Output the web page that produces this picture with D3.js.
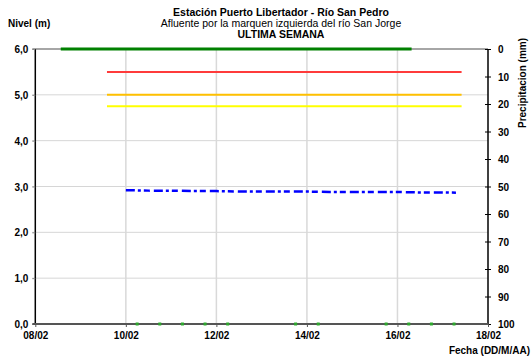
<!DOCTYPE html>
<html>
<head>
<meta charset="utf-8">
<script src="https://cdn.jsdelivr.net/npm/d3@7"></script>
<style>
  html, body { margin: 0; padding: 0; background: #fff; }
  svg { display: block; font-family: "Liberation Sans", Arial, sans-serif; }
</style>
</head>
<body>
<svg id="chart" width="531" height="363"></svg>
<script>
// ---------- data ----------
const titleLines = ["Estación Puerto Libertador - Río San Pedro",
                    "Afluente por la marquen izquierda del río San Jorge",
                    "ULTIMA SEMANA"];
const xTickLabels = ["08/02", "10/02", "12/02", "14/02", "16/02", "18/02"];
const levelTicks = [0, 1, 2, 3, 4, 5, 6];
const precipTicks = [0, 10, 20, 30, 40, 50, 60, 70, 80, 90, 100];

// threshold lines: [start, end, level]
const thresholdNames  = ["verde", "roja", "naranja", "amarilla"];
const thresholdStart  = ["2014-02-08T13:30", "2014-02-09T14:00", "2014-02-09T14:00", "2014-02-09T14:00"];
const thresholdEnd    = ["2014-02-16T07:30", "2014-02-17T10:00", "2014-02-17T10:00", "2014-02-17T10:00"];
const thresholdLevel  = [6.0, 5.5, 5.0, 4.75];

// observed level (m)
const levelTimes = ["2014-02-10T00:00", "2014-02-10T12:00", "2014-02-11T00:00", "2014-02-11T12:00",
                    "2014-02-12T00:00", "2014-02-12T12:00", "2014-02-13T00:00", "2014-02-13T12:00",
                    "2014-02-14T00:00", "2014-02-14T12:00", "2014-02-15T00:00", "2014-02-15T12:00",
                    "2014-02-16T00:00", "2014-02-16T12:00", "2014-02-17T00:00", "2014-02-17T07:00"];
const levelValues = [2.92, 2.91, 2.91, 2.90, 2.90, 2.89, 2.89, 2.89,
                     2.89, 2.88, 2.88, 2.88, 2.88, 2.87, 2.87, 2.865];

// precipitation readings (plotted at 0 level)
const rainTimes = ["2014-02-10T06:00", "2014-02-10T18:00", "2014-02-11T06:00", "2014-02-11T18:00",
                   "2014-02-12T06:00", "2014-02-13T18:00", "2014-02-14T06:00", "2014-02-15T18:00",
                   "2014-02-16T06:00", "2014-02-16T18:00", "2014-02-17T06:00"];
const rainValues = [0, 0, 0, 0, 0, 0, 0, 0, 0, 0, 0];

// ---------- chart ----------
const parse = d3.isoParse;
const svg = d3.select("#chart");
const L = 35.3, R = 488, T = 49, B = 324;

const x = d3.scaleTime()
  .domain([parse("2014-02-08T00:00"), parse("2014-02-18T00:00")])
  .range([L, R]);
const y = d3.scaleLinear().domain([0, 6]).range([B, T]);
const y2 = d3.scaleLinear().domain([0, 100]).range([T, B]);
const xTicks = xTickLabels.map((_, i) => d3.timeDay.offset(x.domain()[0], i * 2));

const fontB = "bold";

// horizontal gridlines
svg.append("g").selectAll("line").data(levelTicks.filter(d => d > 0 && d < 6)).join("line")
  .attr("x1", L - 3).attr("x2", R).attr("y1", d => y(d)).attr("y2", d => y(d))
  .attr("stroke", "#d6d6d6").attr("stroke-width", 1);
// top line
svg.append("line").attr("x1", L - 3).attr("x2", R).attr("y1", y(6)).attr("y2", y(6))
  .attr("stroke", "#a6a6a6").attr("stroke-width", 2);

// vertical gridlines
svg.append("g").selectAll("line").data(xTicks.slice(1, -1)).join("line")
  .attr("x1", d => x(d)).attr("x2", d => x(d)).attr("y1", T).attr("y2", B)
  .attr("stroke", "#d9d9d9").attr("stroke-width", 1.5);

// left axis
const yAxis = d3.axisLeft(y).tickValues(levelTicks).tickSize(3)
  .tickFormat(d => d3.format(".1f")(d).replace(".", ","));
const gy = svg.append("g").attr("transform", `translate(${L},0)`).call(yAxis);
gy.select(".domain").attr("stroke", "#000").attr("stroke-width", 1.5).attr("d", `M0,${T}V${B}`);
gy.selectAll(".tick line").attr("stroke", "#888");
gy.selectAll(".tick text").attr("x", -7).attr("dy", "0.35em")
  .attr("font-size", 10).attr("font-weight", fontB).attr("fill", "#000");

// right axis
const y2Axis = d3.axisRight(y2).tickValues(precipTicks).tickSize(3);
const gy2 = svg.append("g").attr("transform", `translate(${R},0)`).call(y2Axis);
gy2.select(".domain").attr("stroke", "#000").attr("stroke-width", 1.5).attr("d", `M0,${T}V${B}`);
gy2.selectAll(".tick line").attr("stroke", "#000").attr("x1", -3).attr("x2", 3);
gy2.selectAll(".tick text").attr("x", 10).attr("dy", "0.35em")
  .attr("font-size", 10).attr("font-weight", fontB).attr("fill", "#000");

// bottom axis
const xAxis = d3.axisBottom(x).tickValues(xTicks).tickSize(3)
  .tickFormat((d, i) => xTickLabels[i]);
const gx = svg.append("g").attr("transform", `translate(0,${B})`).call(xAxis);
gx.select(".domain").attr("stroke", "#555").attr("stroke-width", 2).attr("d", `M${L - 3},0H${R}`);
gx.selectAll(".tick line").attr("stroke", "#555");
gx.selectAll(".tick text").attr("y", 15).attr("dy", 0)
  .attr("font-size", 10).attr("font-weight", fontB).attr("fill", "#000");

// threshold lines
const thrColors = ["#008000", "#ff3b3b", "#ffc000", "#ffff00"];
const thrWidths = [3, 2, 2, 2];
svg.append("g").selectAll("line").data(thresholdNames).join("line")
  .attr("x1", (d, i) => x(parse(thresholdStart[i])))
  .attr("x2", (d, i) => x(parse(thresholdEnd[i])))
  .attr("y1", (d, i) => y(thresholdLevel[i]))
  .attr("y2", (d, i) => y(thresholdLevel[i]))
  .attr("stroke", (d, i) => thrColors[i])
  .attr("stroke-width", (d, i) => thrWidths[i]);

// level line
const levelData = levelTimes.map((t, i) => ({ t: parse(t), v: levelValues[i] }));
svg.append("path").datum(levelData)
  .attr("fill", "none").attr("stroke", "#0000ff").attr("stroke-width", 2.5)
  .attr("stroke-dasharray", "9,3,3,3,6,4")
  .attr("d", d3.line().x(d => x(d.t)).y(d => y(d.v)));

// rain points
const rainData = rainTimes.map((t, i) => ({ t: parse(t), v: rainValues[i] }));
svg.append("g").selectAll("rect").data(rainData).join("rect")
  .attr("x", d => x(d.t) - 1.5).attr("y", d => y(d.v) - 1.5)
  .attr("width", 3).attr("height", 3).attr("fill", "#2ea82e");

// titles
const titleG = svg.append("g").attr("text-anchor", "middle").attr("font-size", 10.5);
titleLines.forEach((s, i) => {
  titleG.append("text").attr("x", 281).attr("y", 16 + i * 11)
    .attr("font-weight", i === 1 ? "normal" : "bold").text(s);
});

svg.append("text").attr("x", 8).attr("y", 27).attr("font-size", 10)
  .attr("font-weight", "bold").text("Nivel (m)");
svg.append("text").attr("transform", "translate(526,83) rotate(-90)")
  .attr("text-anchor", "middle").attr("font-size", 10).attr("font-weight", "bold")
  .text("Precipitacion (mm)");
svg.append("text").attr("x", 530).attr("y", 354).attr("text-anchor", "end")
  .attr("font-size", 10).attr("font-weight", "bold").text("Fecha (DD/M/AA)");
</script>
</body>
</html>
